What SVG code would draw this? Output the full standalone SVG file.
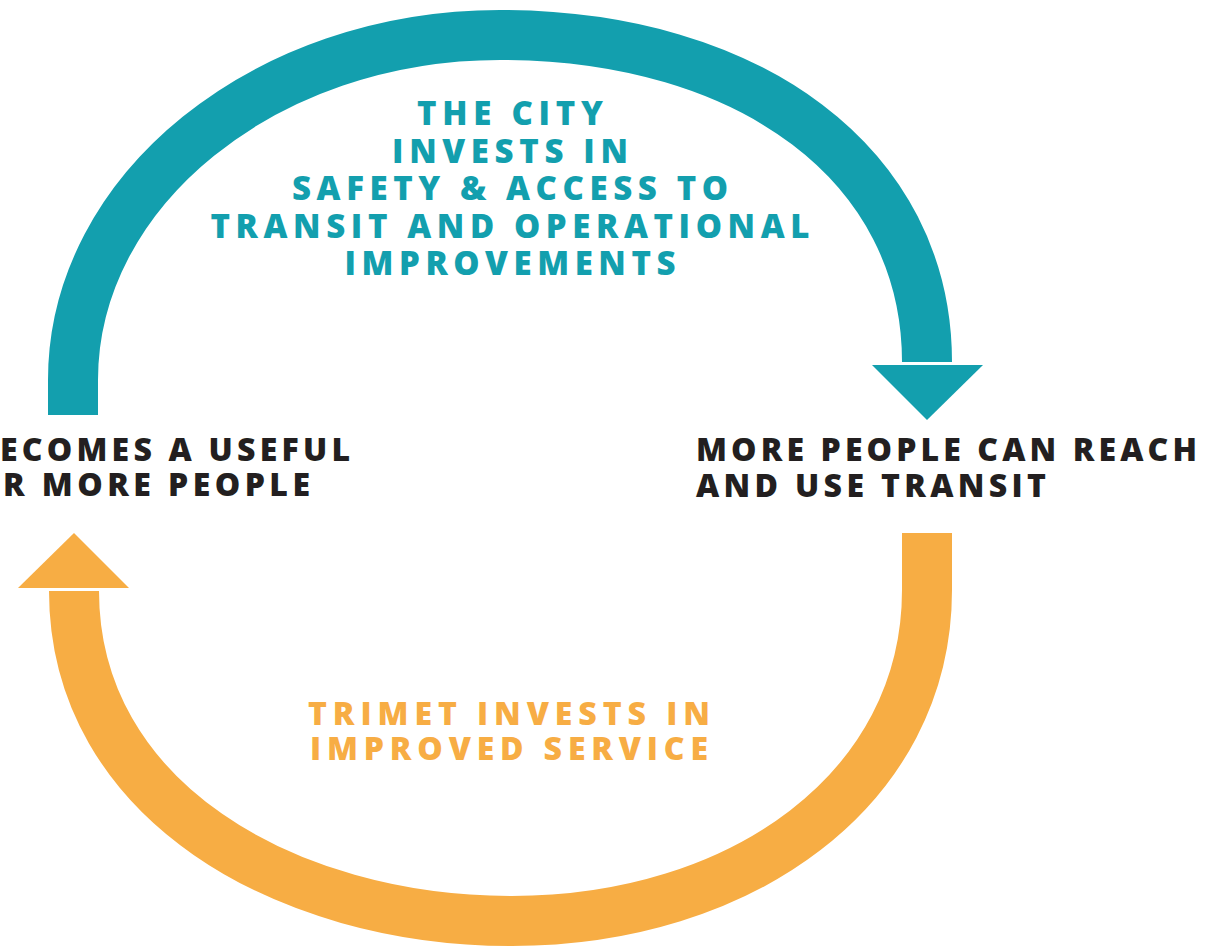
<svg xmlns="http://www.w3.org/2000/svg" width="1218" height="947" viewBox="0 0 1218 947">
<style>
.lbl{font-family:"Open Sans","Liberation Sans",sans-serif;font-weight:800;font-size:32px}
.big{font-size:33px}
.teal{fill:#139fae}
.orange{fill:#f7ad44}
.dark{fill:#231f20}
.flow{fill:none;stroke-width:50;stroke-linecap:butt;stroke-linejoin:round}
</style>
<rect width="1218" height="947" fill="#ffffff"/>
<g id="connectors">
  <g id="city-arrow">
    <path class="flow" stroke="#139fae" d="M73,415 L73,380 C73,190 265,35 500,35 C750,35 927,165 927,362"/>
    <polygon class="teal" points="872,365 983,365 927,420"/>
  </g>
  <g id="trimet-arrow">
    <path class="flow" stroke="#f7ad44" d="M927,533 L927,590 C927,790 740,921 512,921 C285,921 74,800 74,591"/>
    <polygon class="orange" points="18,588 129,588 74,533"/>
  </g>
</g>
<g id="node-city">
  <text class="lbl big teal" text-anchor="middle" x="510" y="125" textLength="186" lengthAdjust="spacing">THE CITY</text>
  <text class="lbl big teal" text-anchor="middle" x="510" y="163" textLength="236" lengthAdjust="spacing">INVESTS IN</text>
  <text class="lbl big teal" text-anchor="middle" x="510" y="200" textLength="436" lengthAdjust="spacing">SAFETY &amp; ACCESS TO</text>
  <text class="lbl big teal" text-anchor="middle" x="510" y="238" textLength="599" lengthAdjust="spacing">TRANSIT AND OPERATIONAL</text>
  <text class="lbl big teal" text-anchor="middle" x="510" y="275" textLength="331" lengthAdjust="spacing">IMPROVEMENTS</text>
</g>
<g id="node-useful">
  <text class="lbl dark" x="0" y="461" textLength="350" lengthAdjust="spacing">ECOMES A USEFUL</text>
  <text class="lbl dark" x="3" y="496" textLength="307" lengthAdjust="spacing">R MORE PEOPLE</text>
</g>
<g id="node-reach">
  <text class="lbl dark" x="696" y="461" textLength="501" lengthAdjust="spacing">MORE PEOPLE CAN REACH</text>
  <text class="lbl dark" x="696" y="497" textLength="350" lengthAdjust="spacing">AND USE TRANSIT</text>
</g>
<g id="node-trimet">
  <text class="lbl orange" text-anchor="middle" x="509" y="725" textLength="402" lengthAdjust="spacing">TRIMET INVESTS IN</text>
  <text class="lbl orange" text-anchor="middle" x="509" y="760" textLength="398" lengthAdjust="spacing">IMPROVED SERVICE</text>
</g>
</svg>
